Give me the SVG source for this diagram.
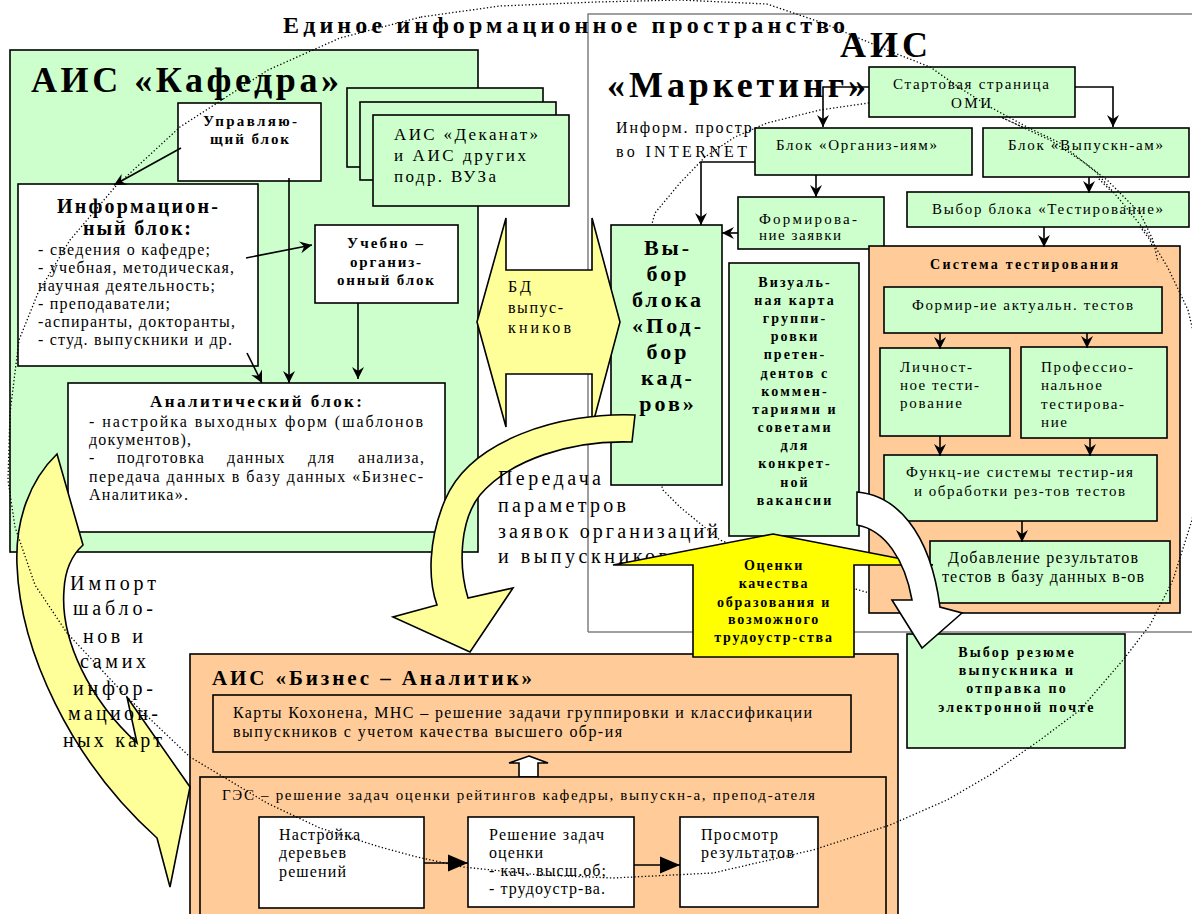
<svg xmlns="http://www.w3.org/2000/svg" width="1192" height="914" viewBox="0 0 1192 914">
<style>
.bx{stroke:#000;stroke-width:1.6}
.g{fill:#CCFFCC}.o{fill:#FFCC99}.w{fill:#fff}.y{fill:#FFFF99}.yy{fill:#FFFF00}
text{font-family:"Liberation Serif","Times New Roman",serif;fill:#000}
.b{font-weight:bold}
.s14{font-size:14px}.s15{font-size:15px}.s16{font-size:16px}.s17{font-size:17px}.s20{font-size:20px}
.ln{stroke:#000;stroke-width:1.6;fill:none}
.dot{fill:none;stroke:#000;stroke-width:1.3;stroke-dasharray:1.3 2.2;stroke-linejoin:round}
.mid{text-anchor:middle}
</style>
<defs>
<marker id="ah" markerUnits="userSpaceOnUse" markerWidth="14" markerHeight="14" viewBox="-13 -7 14 14" refX="0" refY="0" orient="auto"><path d="M0,0 L-12,-6 L-8,0 L-12,6 Z" fill="#000"/></marker>
<marker id="tri" markerUnits="userSpaceOnUse" markerWidth="22" markerHeight="20" viewBox="-21 -10 22 20" refX="0" refY="0" orient="auto"><path d="M0,0 L-20,-8.5 L-20,8.5 Z" fill="#000"/></marker>
</defs>
<rect width="1192" height="914" fill="#fff"/>

<!-- frame of AIS Marketing -->
<path d="M588,632 L588,14 L1192,14 M588,632 L1192,632" fill="none" stroke="#808080" stroke-width="1.5"/>
<!-- internet space ellipse (mostly hidden) -->
<path class="dot" d="M869,103 L820,110 L767,123 L735,137 L705,157 L680,183 L655,213 L642,260 L638,320 L640,400 L650,450 L663,490 L680,507 L720,540 L780,565 L830,582 L866,592 L940,600 L1020,595 L1100,570 L1150,500 L1170,400 L1172,330 L1165,280 L1150,240 L1120,200 L1090,170 L1050,140 L1003,118 L950,102 Z"/>

<text class="b" x="283" y="33" font-size="24" textLength="562" lengthAdjust="spacing">Единое информационное пространство</text>

<!-- AIS Kafedra -->
<g id="kafedra">
<rect class="bx g" x="10" y="50" width="468" height="502"/>
<text class="b" x="31" y="92" font-size="36" textLength="308" lengthAdjust="spacing">АИС «Кафедра»</text>
</g>
<g id="upr">
<rect class="bx w" x="178" y="103" width="143" height="78"/>
<text class="b s15" x="203" y="126" textLength="94" lengthAdjust="spacing">Управляю-</text>
<text class="b s15" x="210" y="144" textLength="79" lengthAdjust="spacing">щий блок</text>
</g>
<g id="inform">
<rect class="bx w" x="18" y="184" width="240" height="182"/>
<text class="b" font-size="20" x="57" y="213" textLength="161" lengthAdjust="spacing">Информацион-</text>
<text class="b" font-size="20" x="83" y="235" textLength="108" lengthAdjust="spacing">ный блок:</text>
<text class="s16" x="38" y="255" textLength="172" lengthAdjust="spacing">- сведения о кафедре;</text>
<text class="s16" x="38" y="273" textLength="196" lengthAdjust="spacing">- учебная, методическая,</text>
<text class="s16" x="38" y="291" textLength="177" lengthAdjust="spacing">научная деятельность;</text>
<text class="s16" x="38" y="309" textLength="132" lengthAdjust="spacing">- преподаватели;</text>
<text class="s16" x="38" y="327" textLength="197" lengthAdjust="spacing">-аспиранты, докторанты,</text>
<text class="s16" x="38" y="345" textLength="194" lengthAdjust="spacing">- студ. выпускники и др.</text>
</g>
<g id="uchebno">
<rect class="bx w" x="315" y="225" width="143" height="78"/>
<text class="b s15" x="347" y="248" textLength="76" lengthAdjust="spacing">Учебно –</text>
<text class="b s15" x="350" y="267" textLength="71" lengthAdjust="spacing">организ-</text>
<text class="b s15" x="337" y="285" textLength="97" lengthAdjust="spacing">онный блок</text>
</g>
<g id="analit">
<rect class="bx w" x="68" y="383" width="377" height="149"/>
<text class="b" font-size="17" x="150" y="407" textLength="212" lengthAdjust="spacing">Аналитический блок:</text>
<text class="s16" x="89" y="427" textLength="334" lengthAdjust="spacing">- настройка выходных форм (шаблонов</text>
<text class="s16" x="89" y="445" textLength="102" lengthAdjust="spacing">документов),</text>
<text class="s16" y="463" letter-spacing="1.3"><tspan x="89">-</tspan><tspan x="117">подготовка</tspan><tspan x="227">данных</tspan><tspan x="308">для</tspan><tspan x="358">анализа,</tspan></text>
<text class="s16" x="89" y="482" textLength="334" lengthAdjust="spacing">передача данных в базу данных «Бизнес-</text>
<text class="s16" x="89" y="500" textLength="99" lengthAdjust="spacing">Аналитика».</text>
</g>
<g id="dekanat">
<rect class="bx g" x="347" y="88" width="196" height="79"/>
<rect class="bx g" x="360" y="102" width="196" height="78"/>
<rect class="bx g" x="373" y="115" width="196" height="91"/>
<text class="s17" x="394" y="140" textLength="144" lengthAdjust="spacing">АИС «Деканат»</text>
<text class="s17" x="394" y="161" textLength="132" lengthAdjust="spacing">и АИС других</text>
<text class="s17" x="394" y="182" textLength="102" lengthAdjust="spacing">подр. ВУЗа</text>
</g>

<!-- Marketing boxes -->
<g id="marketing-title">
<text class="b" font-size="36" x="840" y="57" textLength="88" lengthAdjust="spacing">АИС</text>
<text class="b" font-size="36" x="607" y="97" textLength="259" lengthAdjust="spacing">«Маркетинг»</text>
<text class="s16" x="616" y="133" textLength="143" lengthAdjust="spacing">Информ. простр-</text>
<text class="s16" x="616" y="157" textLength="131" lengthAdjust="spacing">во INTERNET</text>
</g>
<g id="omi">
<rect class="bx g" x="869" y="67" width="206" height="50"/>
<text class="s15" x="893" y="89" textLength="156" lengthAdjust="spacing">Стартовая страница</text>
<text class="s15" x="951" y="108" textLength="40" lengthAdjust="spacing">ОМИ</text>
</g>
<g id="organiz">
<rect class="bx g" x="755" y="128" width="217" height="47"/>
<text class="s15" x="776" y="150" textLength="161" lengthAdjust="spacing">Блок «Организ-иям»</text>
</g>
<g id="vypuskn">
<rect class="bx g" x="983" y="128" width="206" height="49"/>
<text class="s15" x="1008" y="150" textLength="155" lengthAdjust="spacing">Блок «Выпускн-ам»</text>
</g>
<g id="formir">
<rect class="bx g" x="738" y="197" width="146" height="52"/>
<text class="s15" x="759" y="224" textLength="98" lengthAdjust="spacing">Формирова-</text>
<text class="s15" x="759" y="240" textLength="82" lengthAdjust="spacing">ние заявки</text>
</g>
<g id="vybor-test">
<rect class="bx g" x="907" y="192" width="282" height="35"/>
<text class="s15" x="932" y="214" textLength="231" lengthAdjust="spacing">Выбор блока «Тестирование»</text>
</g>
<g id="podbor">
<rect class="bx g" x="611" y="225" width="111" height="260"/>
<text class="b mid" font-size="22" letter-spacing="3" x="668">
<tspan x="668" y="255">Вы-</tspan><tspan x="668" y="281">бор</tspan><tspan x="668" y="307">блока</tspan><tspan x="668" y="333">«Под-</tspan><tspan x="668" y="359">бор</tspan><tspan x="668" y="385">кад-</tspan><tspan x="668" y="411">ров»</tspan>
</text>
</g>
<g id="vizual">
<rect class="bx g" x="729" y="263" width="130" height="273"/>
<text class="b s14 mid" letter-spacing="2.1" x="795">
<tspan x="795" y="287">Визуаль-</tspan><tspan x="795" y="305">ная карта</tspan><tspan x="795" y="323">группи-</tspan><tspan x="795" y="341">ровки</tspan><tspan x="795" y="359">претен-</tspan><tspan x="795" y="378">дентов с</tspan><tspan x="795" y="396">коммен-</tspan><tspan x="795" y="414">тариями и</tspan><tspan x="795" y="432">советами</tspan><tspan x="795" y="450">для</tspan><tspan x="795" y="468">конкрет-</tspan><tspan x="795" y="487">ной</tspan><tspan x="795" y="505">вакансии</tspan>
</text>
</g>
<g id="sistema">
<rect class="bx o" x="869" y="246" width="311" height="367"/>
<text class="b s14" x="930" y="269" textLength="188" lengthAdjust="spacing">Система тестирования</text>
<rect class="bx g" x="884" y="287" width="278" height="46"/>
<text class="s15" x="912" y="310" textLength="221" lengthAdjust="spacing">Формир-ие актуальн. тестов</text>
<rect class="bx g" x="880" y="348" width="130" height="88"/>
<text class="s15" x="900" y="372" textLength="72" lengthAdjust="spacing">Личност-</text>
<text class="s15" x="900" y="390" textLength="79" lengthAdjust="spacing">ное тести-</text>
<text class="s15" x="900" y="408" textLength="62" lengthAdjust="spacing">рование</text>
<rect class="bx g" x="1021" y="347" width="146" height="91"/>
<text class="s15" x="1041" y="372" textLength="92" lengthAdjust="spacing">Профессио-</text>
<text class="s15" x="1041" y="390" textLength="61" lengthAdjust="spacing">нальное</text>
<text class="s15" x="1041" y="409" textLength="83" lengthAdjust="spacing">тестирова-</text>
<text class="s15" x="1041" y="427" textLength="26" lengthAdjust="spacing">ние</text>
<rect class="bx g" x="884" y="455" width="273" height="66"/>
<text class="s15" x="906" y="477" textLength="227" lengthAdjust="spacing">Функц-ие системы тестир-ия</text>
<text class="s15" x="914" y="496" textLength="211" lengthAdjust="spacing">и обработки рез-тов тестов</text>
<rect class="bx g" x="930" y="541" width="240" height="62"/>
<text class="s16" x="948" y="563" textLength="190" lengthAdjust="spacing">Добавление результатов</text>
<text class="s16" x="942" y="582" textLength="202" lengthAdjust="spacing">тестов в базу данных в-ов</text>
</g>

<!-- BD double arrow -->
<g id="bd">
<polygon class="bx y" points="477,322 506,218 506,270 592,270 592,218 620,322 592,427 592,374 506,374 506,427"/>
<text class="s16" x="508" y="292" textLength="23" lengthAdjust="spacing">БД</text>
<text class="s16" x="508" y="313" textLength="55" lengthAdjust="spacing">выпус-</text>
<text class="s16" x="508" y="333" textLength="63" lengthAdjust="spacing">кников</text>
</g>

<!-- Business analytic -->
<g id="biznes">
<rect class="bx o" x="190" y="654" width="708" height="266"/>
<text class="b" font-size="21" x="212" y="685" textLength="320" lengthAdjust="spacing">АИС «Бизнес – Аналитик»</text>
<rect class="bx o" x="213" y="695" width="638" height="57"/>
<text class="s16" x="233" y="718" textLength="579" lengthAdjust="spacing">Карты Кохонена, МНС – решение задачи  группировки и классификации</text>
<text class="s16" x="233" y="737" textLength="389" lengthAdjust="spacing">выпускников с  учетом качества высшего  обр-ия</text>
<polygon class="bx w" points="529,756 548,763 538,763 538,777 519,777 519,763 509,763"/>
<rect class="bx o" x="200" y="777" width="686" height="140"/>
<text class="s15" x="222" y="800" textLength="593" lengthAdjust="spacing">ГЭС – решение задач оценки рейтингов кафедры, выпускн-а, препод-ателя</text>
</g>
<g id="nastroika">
<rect class="bx w" x="259" y="817" width="165" height="91"/>
<text class="s16" x="279" y="840" textLength="81" lengthAdjust="spacing">Настройка</text>
<text class="s16" x="279" y="858" textLength="67" lengthAdjust="spacing">деревьев</text>
<text class="s16" x="279" y="877" textLength="67" lengthAdjust="spacing">решений</text>
</g>
<g id="reshenie">
<rect class="bx w" x="468" y="817" width="166" height="90"/>
<text class="s16" x="489" y="840" textLength="115" lengthAdjust="spacing">Решение задач</text>
<text class="s16" x="489" y="858" textLength="54" lengthAdjust="spacing">оценки</text>
<text class="s16" x="489" y="876" textLength="117" lengthAdjust="spacing">- кач. высш.об;</text>
<text class="s16" x="489" y="894" textLength="116" lengthAdjust="spacing">- трудоустр-ва.</text>
</g>
<g id="prosmotr">
<rect class="bx w" x="680" y="817" width="138" height="90"/>
<text class="s16" x="701" y="840" textLength="77" lengthAdjust="spacing">Просмотр</text>
<text class="s16" x="701" y="858" textLength="93" lengthAdjust="spacing">результатов</text>
</g>

<!-- connectors -->
<g id="connectors">
<path class="ln" marker-end="url(#ah)" d="M181,148 L114,185"/>
<path class="ln" marker-end="url(#ah)" d="M246,258 L312,245"/>
<path class="ln" marker-end="url(#ah)" d="M289,178 L289,383"/>
<path class="ln" marker-end="url(#ah)" d="M247,353 L262,383"/>
<path class="ln" marker-end="url(#ah)" d="M358,303 L358,379"/>
<path class="ln" marker-end="url(#ah)" d="M869,87 L823,87 L823,127"/>
<path class="ln" marker-end="url(#ah)" d="M1075,87 L1113,87 L1113,127"/>
<path class="ln" marker-end="url(#ah)" d="M755,162 L701,162 L701,225"/>
<path class="ln" marker-end="url(#ah)" d="M816,175 L816,197"/>
<path class="ln" marker-end="url(#ah)" d="M738,233 L722,233"/>
<path class="ln" marker-end="url(#ah)" d="M1089,177 L1089,193"/>
<path class="ln" marker-end="url(#ah)" d="M1044,227 L1044,247"/>
<path class="ln" marker-end="url(#ah)" d="M940,333 L940,349"/>
<path class="ln" marker-end="url(#ah)" d="M1087,333 L1087,348"/>
<path class="ln" marker-end="url(#ah)" d="M940,436 L940,456"/>
<path class="ln" marker-end="url(#ah)" d="M1090,438 L1090,456"/>
<path class="ln" marker-end="url(#ah)" d="M1022,521 L1022,542"/>
<path class="ln" marker-end="url(#tri)" d="M424,863 L468,863"/>
<path class="ln" marker-end="url(#tri)" d="M634,865 L680,865"/>
</g>

<!-- curved yellow arrow: transfer of parameters -->
<g id="peredacha">
<path class="bx y" d="M635,415 C560,412 470,440 445,500 C428,540 428,580 437,605 L393,617 L470,652 L513,588 L468,598 C458,565 460,520 480,495 C510,460 570,440 632,442 Z"/>
<text class="s20" x="498" y="485" textLength="103" lengthAdjust="spacing">Передача</text>
<text class="s20" x="498" y="512" textLength="128" lengthAdjust="spacing">параметров</text>
<text class="s20" x="498" y="538" textLength="220" lengthAdjust="spacing">заявок организаций</text>
<text class="s20" x="498" y="563" textLength="170" lengthAdjust="spacing">и выпускников</text>
</g>

<!-- big yellow up arrow -->
<g id="ocenki">
<polygon class="bx yy" points="773,534 933,565 854,565 854,657 693,657 693,565 613,565"/>
<text class="b s14 mid" letter-spacing="1.8" x="774">
<tspan x="774" y="570">Оценки</tspan><tspan x="774" y="588">качества</tspan><tspan x="774" y="607">образования и</tspan><tspan x="774" y="624">возможного</tspan><tspan x="774" y="642">трудоустр-ства</tspan>
</text>
</g>

<g id="vybor-rezume">
<rect class="bx g" x="907" y="634" width="218" height="114"/>
<text class="b s14 mid" letter-spacing="2.2" x="1017">
<tspan x="1017" y="657">Выбор резюме</tspan><tspan x="1017" y="675">выпускника и</tspan><tspan x="1017" y="693">отправка по</tspan><tspan x="1017" y="712">электронной почте</tspan>
</text>
</g>

<!-- white curved arrow -->
<path id="white-arrow" class="bx w" d="M857,492 C895,495 930,530 940,607 L962,613 L922,648 L892,600 L912,600 C905,560 885,530 857,525 Z"/>

<!-- left yellow arrow: import -->
<g id="import">
<path class="bx y" d="M57,454 C30,480 15,520 17,565 C20,650 70,760 157,838 L170,887 L190,787 L127,697 L137,743 C90,700 60,640 64,590 C65,570 72,555 83,545 Z"/>
<text class="s20" x="70" y="590" textLength="86" lengthAdjust="spacing">Импорт</text>
<text class="s20" x="73" y="615" textLength="80" lengthAdjust="spacing">шабло-</text>
<text class="s20" x="83" y="643" textLength="60" lengthAdjust="spacing">нов и</text>
<text class="s20" x="80" y="668" textLength="66" lengthAdjust="spacing">самих</text>
<text class="s20" x="73" y="695" textLength="80" lengthAdjust="spacing">инфор-</text>
<text class="s20" x="68" y="720" textLength="90" lengthAdjust="spacing">мацион-</text>
<text class="s20" x="63" y="747" textLength="99" lengthAdjust="spacing">ных карт</text>
</g>

<!-- unified information space (dotted) -->
<path class="dot" d="M421,17 L500,6 L597,2 L680,0 L767,4 L823,23 L887,50 L930,67 L960,88 L990,107 L1027,127 L1060,143 L1097,173 L1120,200 L1147,233 L1168,268 L1188,310 L1200,360 L1205,430 L1200,480 L1192,520 L1173,580 L1150,625 L1123,660 L1080,710 L1040,740 L990,775 L947,800 L890,825 L813,850 L713,873 L613,878 L540,875 L463,867 L417,857 L380,847 L320,828 L267,803 L190,757 L127,697 L67,633 L35,585 L15,527 L8,480 L10,413 L19,340 L38,293 L70,240 L115,187 L180,127 L268,70 L340,38 Z"/>
<path class="dot" d="M1003,118 L1050,140 L1085,163 L1107,180 L1140,213 L1153,240 L1158,262"/>
</svg>
